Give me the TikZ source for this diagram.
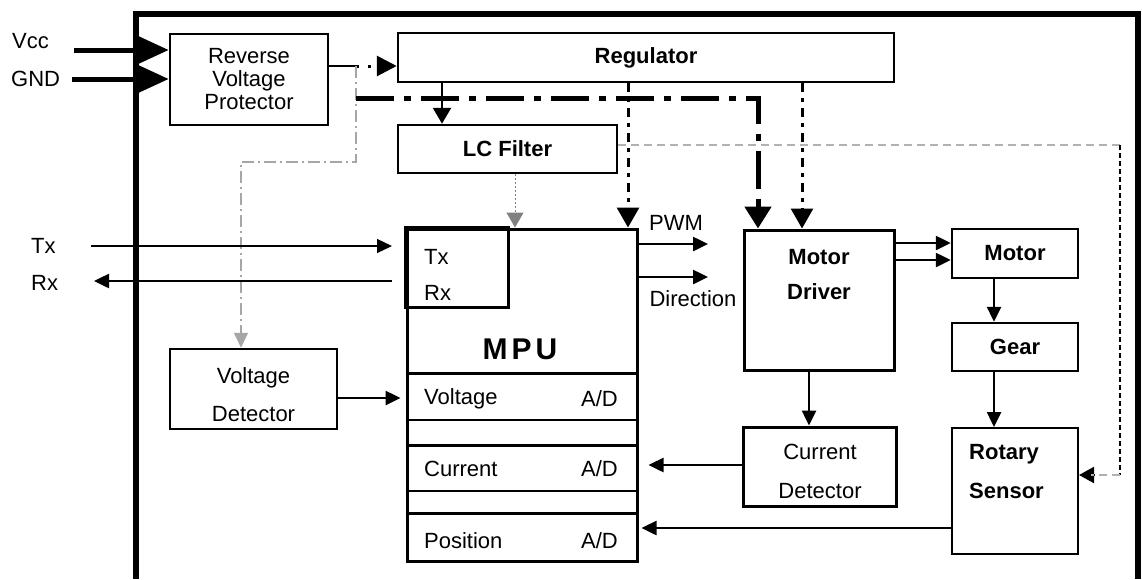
\documentclass[tikz,border=0pt]{standalone}
\usepackage{fontspec}
\setmainfont{Liberation Sans}
\usetikzlibrary{arrows.meta}
\tikzset{
  boxnode/.style={draw, line width=2.5pt, inner sep=0pt, font=\fontsize{22}{23}\selectfont, align=center},
  bnode/.style={boxnode, font=\fontsize{22}{23}\selectfont\bfseries},
  lbl/.style={inner sep=0pt, font=\fontsize{22}{23}\selectfont},
  blbl/.style={inner sep=0pt, font=\fontsize{22}{23}\selectfont\bfseries},
  tip/.style={-{Triangle[length=15pt,width=14pt]}},
  bigtip/.style={-{Triangle[length=22pt,width=26pt]}},
  sigline/.style={line width=2.5pt, tip},
  thinsig/.style={line width=1.2pt, tip},
  thickdd/.style={line width=5pt, dash pattern=on 38pt off 10pt on 7pt off 10pt},
  meddd/.style={line width=3pt, dash pattern=on 9pt off 6pt on 4pt off 6pt},
  graydd/.style={draw=gray!70, line width=1.5pt, dash pattern=on 12pt off 4pt on 2pt off 4pt},
  graydash/.style={draw=gray!60, line width=2pt, dash pattern=on 8pt off 5pt},
  graydot/.style={draw=gray, line width=1pt, dash pattern=on 2pt off 2pt},
}
\begin{document}
\begin{tikzpicture}[x=1pt,y=-1pt]
\useasboundingbox (0,0) rectangle (1142,579);
% frame
\coordinate (f1) at (136,579);
\coordinate (f2) at (136,14);
\coordinate (f3) at (1138,14);
\coordinate (f4) at (1138,579);

% boxes
\node[boxnode, minimum width=158pt, minimum height=91pt] (rvp) at (249,79.5) {Reverse\\Voltage\\Protector};
\node[bnode, minimum width=496pt, minimum height=49pt] (reg) at (646,57.5) {Regulator};
\node[bnode, minimum width=219pt, minimum height=48pt] (lc) at (507.5,149) {LC Filter};
\node[draw, line width=3pt, minimum width=230pt, minimum height=332pt, inner sep=0pt] (mpu) at (522,395) {};
\node[boxnode, minimum width=167pt, minimum height=80pt] (vd) at (253.5,389) {};
\node[draw, line width=3pt, minimum width=150pt, minimum height=140pt, inner sep=0pt] (md) at (819,300) {};
\node[bnode, minimum width=126pt, minimum height=49pt] (motor) at (1015,253.5) {Motor};
\node[bnode, minimum width=126pt, minimum height=48pt] (gear) at (1015,347) {Gear};
\node[draw, line width=3pt, minimum width=153pt, minimum height=79pt, inner sep=0pt] (cd) at (819.5,466.5) {};
\node[draw, line width=2pt, minimum width=126pt, minimum height=126pt, inner sep=0pt] (rs) at (1015,491) {};

% texts in boxes
\node[lbl] (vdt1) at (253.5,378) {Voltage};
\node[lbl] (vdt2) at (253.5,414) {Detector};
\node[blbl] (mdt1) at (819,257) {Motor};
\node[blbl] (mdt2) at (819,292) {Driver};
\node[lbl] (cdt1) at (820,452) {Current};
\node[lbl] (cdt2) at (820,491) {Detector};
\node[blbl, anchor=west] (rst1) at (969,454) {Rotary};
\node[blbl, anchor=west] (rst2) at (969,491) {Sensor};

% MPU interior
\coordinate (txc) at (508,307);
\draw[line width=3pt] (mpu.north west) rectangle (txc);
\node[lbl, anchor=west] (mtx) at (424,257) {Tx};
\node[lbl, anchor=west] (mrx) at (424,293) {Rx};
\node[inner sep=0pt, font=\fontsize{30}{32}\selectfont\bfseries] (mpul) at (520,349) {M\hspace{4pt}P\hspace{4pt}U};
\coordinate (r1) at (0,373);
\coordinate (r2) at (0,420);
\coordinate (r3) at (0,445);
\coordinate (r4) at (0,491);
\coordinate (r5) at (0,513);
\draw[line width=3pt] (mpu.west |- r1) -- (mpu.east |- r1);
\draw[line width=1.5pt] (mpu.west |- r2) -- (mpu.east |- r2);
\draw[line width=3pt] (mpu.west |- r3) -- (mpu.east |- r3);
\draw[line width=1.5pt] (mpu.west |- r4) -- (mpu.east |- r4);
\draw[line width=3pt] (mpu.west |- r5) -- (mpu.east |- r5);
\node[lbl, anchor=west] (vlt) at (424,399) {Voltage};
\node[lbl, anchor=east] (ad1) at (618,399) {A/D};
\node[lbl, anchor=west] (cur) at (424,469) {Current};
\node[lbl, anchor=east] (ad2) at (618,469) {A/D};
\node[lbl, anchor=west] (pos) at (424,541) {Position};
\node[lbl, anchor=east] (ad3) at (618,541) {A/D};

% outside labels
\node[lbl, anchor=west] (vcc) at (12,41) {Vcc};
\node[lbl, anchor=west] (gnd) at (11,79) {GND};
\node[lbl, anchor=west] (txl) at (31,246) {Tx};
\node[lbl, anchor=west] (rxl) at (31,283) {Rx};
\node[lbl] (pwm) at (676,223) {PWM};
\node[lbl] (dir) at (693,299) {Direction};

% Vcc / GND
\coordinate (vccs) at (74,50);
\coordinate (gnds) at (72,79);
\draw[line width=5pt, -{Triangle[length=31pt,width=27pt]}] (vccs) -- (vccs -| rvp.west);
\draw[line width=5pt, -{Triangle[length=31pt,width=27pt]}] (gnds) -- (gnds -| rvp.west);

% frame on top of wires
\draw[line width=6pt] (f1) -- (f2) -- (f3) -- (f4);

% RVP output
\coordinate (J) at (356,66);
\draw[line width=1.2pt] (J -| rvp.east) -- (J);
\draw[line width=3pt, dash pattern=on 3pt off 9pt, -{Triangle[length=20pt,width=20pt]}] (J) -- (J -| reg.west);
\coordinate (k1) at (356,162);
\coordinate (k2) at (241,162);
\draw[graydd, tip] (J) -- (k1) -- (k2) -- (k2 |- vd.north);

% thick power line to motor driver
\coordinate (t0) at (356,98);
\coordinate (t1) at (758,98);
\draw[thickdd] (t0) -- (t1) -- ([yshift=24pt]t1 |- md.north);
\draw[line width=5pt, bigtip] ([yshift=30pt]t1 |- md.north) -- (t1 |- md.north);

% regulator outputs
\coordinate (c442) at (442,0);
\coordinate (c628) at (628,0);
\coordinate (c802) at (802,0);
\coordinate (c515) at (515,0);
\draw[line width=2.5pt, -{Triangle[length=16pt,width=18pt]}] (reg.south -| c442) -- (lc.north -| c442);
\draw[meddd, -{Triangle[length=20pt,width=22pt]}] (reg.south -| c628) -- (mpu.north -| c628);
\draw[meddd, -{Triangle[length=20pt,width=22pt]}] (reg.south -| c802) -- (md.north -| c802);

% LC filter outputs
\draw[graydot, -{Triangle[length=15pt,width=17pt]}] (lc.south -| c515) -- (mpu.north -| c515);
\coordinate (g0) at (0,145);
\coordinate (g1) at (1120,145);
\coordinate (g2) at (1120,475);
\draw[graydash] (lc.east |- g0) -- (g1);
\draw[line width=1.2pt, dash pattern=on 5pt off 3pt] (g1) -- (g2);
\draw[graydash, -{Triangle[length=15pt,width=16pt]}, black] (g2) -- (rs.east |- g2);
\draw[graydash] (g2) -- ([xshift=12pt]rs.east |- g2);

% Tx / Rx
\coordinate (txs) at (91,246);
\coordinate (txe) at (392,246);
\coordinate (rxs) at (392,281);
\coordinate (rxe) at (94,281);
\draw[thinsig] (txs) -- (txe);
\draw[sigline] (rxs) -- (rxe);

% PWM / Direction
\coordinate (pw) at (708,244);
\coordinate (dr) at (708,277);
\draw[sigline] (mpu.east |- pw) -- (pw);
\draw[sigline] (mpu.east |- dr) -- (dr);

% motor driver to motor
\coordinate (m1) at (0,243);
\coordinate (m2) at (0,260);
\draw[sigline] (md.east |- m1) -- (motor.west |- m1);
\draw[sigline] (md.east |- m2) -- (motor.west |- m2);

% mechanical chain
\coordinate (c994) at (994,0);
\draw[sigline] (motor.south -| c994) -- (gear.north -| c994);
\draw[sigline] (gear.south -| c994) -- (rs.north -| c994);

% current path
\coordinate (c809) at (809,0);
\draw[sigline] (md.south -| c809) -- (cd.north -| c809);
\coordinate (y465) at (0,465);
\draw[sigline, shorten >=10pt] (cd.west |- y465) -- (mpu.east |- y465);
\coordinate (y528) at (0,528);
\draw[sigline, shorten >=3pt] (rs.west |- y528) -- (mpu.east |- y528);
\coordinate (y398) at (0,398);
\draw[sigline, shorten >=5pt] (vd.east |- y398) -- (mpu.west |- y398);
\end{tikzpicture}
\end{document}
